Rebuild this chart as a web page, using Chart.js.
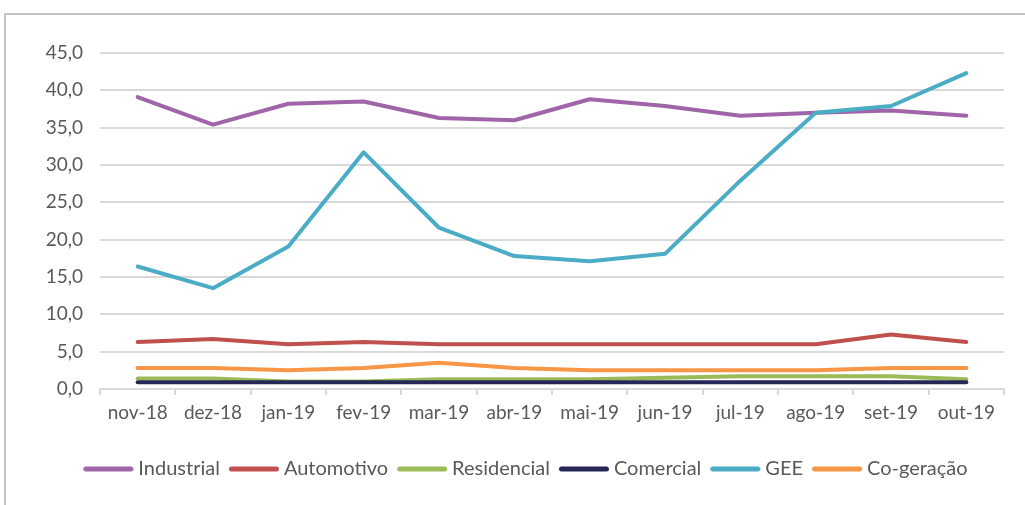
<!DOCTYPE html>
<html>
<head>
<meta charset="utf-8">
<script src="https://cdn.jsdelivr.net/npm/chart.js@4.4.0/dist/chart.umd.min.js"></script>
<style>
    html, body { margin: 0; padding: 0; background: #fff; }
    #wrap { position: relative; width: 1025px; height: 505px; overflow: hidden; }
    #frame { position: absolute; left: 4px; top: 13px; width: 1040px; height: 520px; border: 2px solid #c4c4c4; box-sizing: border-box; }
    #chart { position: absolute; left: 0; top: 0; }
</style>
</head>
<body>
<div id="wrap">
    <div id="frame"></div>
    <canvas id="chart" width="1025" height="505"></canvas>
</div>
<script>
// Dados do gráfico
const meses = ['nov-18', 'dez-18', 'jan-19', 'fev-19', 'mar-19', 'abr-19', 'mai-19', 'jun-19', 'jul-19', 'ago-19', 'set-19', 'out-19'];
const industrial  = [39.1, 35.4, 38.2, 38.5, 36.3, 36.0, 38.8, 37.9, 36.6, 37.0, 37.3, 36.6];
const automotivo  = [6.3, 6.7, 6.0, 6.3, 6.0, 6.0, 6.0, 6.0, 6.0, 6.0, 7.3, 6.3];
const residencial = [1.4, 1.4, 1.0, 1.0, 1.3, 1.3, 1.3, 1.5, 1.7, 1.7, 1.7, 1.3];
const comercial   = [0.9, 0.9, 0.9, 0.9, 0.9, 0.9, 0.9, 0.9, 0.9, 0.9, 0.9, 0.9];
const gee         = [16.4, 13.5, 19.1, 31.7, 21.6, 17.8, 17.1, 18.1, 27.9, 37.0, 37.9, 42.3];
const cogeracao   = [2.8, 2.8, 2.5, 2.8, 3.5, 2.8, 2.5, 2.5, 2.5, 2.5, 2.8, 2.8];
const yTicks = [0, 5, 10, 15, 20, 25, 30, 35, 40, 45];

const series = [
    { label: 'Industrial', data: industrial, cor: '#9f65a8' },
    { label: 'Automotivo', data: automotivo, cor: '#c0504d' },
    { label: 'Residencial', data: residencial, cor: '#9bbb59' },
    { label: 'Comercial', data: comercial, cor: '#252856' },
    { label: 'GEE', data: gee, cor: '#4bacc6' },
    { label: 'Co-geração', data: cogeracao, cor: '#f79646' }
];

const fonte = { family: 'Lato', size: 19 };

// marcador de linha arredondada para a legenda
function marcador(cor) {
    const c = document.createElement('canvas');
    c.width = 56;
    c.height = 8;
    const g = c.getContext('2d');
    g.strokeStyle = cor;
    g.lineWidth = 5;
    g.lineCap = 'round';
    g.beginPath();
    g.moveTo(5.5, 4);
    g.lineTo(50.5, 4);
    g.stroke();
    return c;
}

// desloca a legenda para o centro da moldura
const moverLegenda = {
    id: 'moverLegenda',
    afterLayout(chart) {
        chart.legend.left += 26;
        chart.legend.right += 26;
    }
};

const ctx = document.getElementById('chart').getContext('2d');
new Chart(ctx, {
    type: 'line',
    data: {
        labels: meses,
        datasets: series.map((s, i) => ({
            label: s.label,
            data: s.data,
            borderColor: s.cor,
            backgroundColor: s.cor,
            borderWidth: 4,
            borderCapStyle: 'round',
            borderJoinStyle: 'round',
            pointRadius: 0,
            pointStyle: marcador(s.cor),
            tension: 0,
            order: series.length - i
        }))
    },
    plugins: [moverLegenda],
    options: {
        responsive: false,
        animation: false,
        layout: { padding: { top: 53, right: 21, bottom: 16, left: 0 } },
        plugins: {
            tooltip: { enabled: false },
            legend: {
                position: 'bottom',
                labels: {
                    font: { family: 'Lato', size: 20 },
                    color: '#595959',
                    usePointStyle: true,
                    pointStyleWidth: 40,
                    boxWidth: 40,
                    padding: 14,
                    sort: (a, b) => a.datasetIndex - b.datasetIndex
                }
            }
        },
        scales: {
            x: {
                offset: true,
                grid: { offset: true, drawOnChartArea: false, drawTicks: true, tickLength: 6, color: '#d9d9d9', lineWidth: 2 },
                border: { color: '#d9d9d9', width: 2 },
                ticks: { font: fonte, color: '#595959', padding: 6, maxRotation: 0 },
                afterFit: (axis) => { axis.height = 56; }
            },
            y: {
                min: 0,
                max: 45,
                afterBuildTicks: (axis) => { axis.ticks = yTicks.map(v => ({ value: v })); },
                grid: { color: '#d9d9d9', lineWidth: 2, drawTicks: false },
                border: { display: false },
                ticks: {
                    font: fonte,
                    color: '#595959',
                    padding: 17,
                    callback: (v) => Number(v).toFixed(1).replace('.', ',')
                },
                afterFit: (axis) => { axis.width = 100; }
            }
        }
    }
});
</script>
</body>
</html>
